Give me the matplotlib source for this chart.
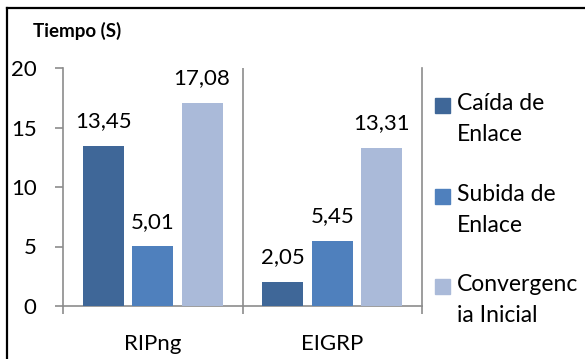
import numpy as np
import matplotlib.pyplot as plt
from matplotlib.lines import Line2D
from matplotlib.patches import Rectangle

# tiempos medidos por protocolo (segundos)
protocolos = ['RIPng', 'EIGRP']
series = ['Caída de\nEnlace', 'Subida de\nEnlace', 'Convergenc\nia Inicial']
caida = [13.45, 2.05]
subida = [5.01, 5.45]
convergencia = [17.08, 13.31]
colores = ['#3f6798', '#4f80bd', '#aabad9']

plt.rcParams['font.family'] = ['Lato', 'DejaVu Sans']
gris = '#8c8c8c'

fig = plt.figure(figsize=(5.85, 3.59), dpi=100)
W, H = 585.0, 359.0
ax = fig.add_axes([63 / W, (H - 306) / H, (422 - 63) / W, (306 - 68) / H])

x = np.arange(len(protocolos))
paso = 0.275
ancho = 0.228
for i, (vals, col) in enumerate(zip([caida, subida, convergencia], colores)):
    pos = x + (i - 1) * paso
    ax.bar(pos, vals, width=ancho, color=col, zorder=3)
    for px, v in zip(pos, vals):
        ax.annotate(f'{v:.2f}'.replace('.', ','), (px, v), xytext=(0, 13.5),
                    textcoords='offset points', ha='center', va='baseline',
                    fontsize=16)

ax.set_xlim(-0.5, 1.5)
ax.set_ylim(0, 20)
ax.set_yticks([0, 5, 10, 15, 20])
ax.tick_params(axis='y', labelsize=16, length=6, width=1.2, color=gris, pad=13)
ax.set_xticks(x)
ax.set_xticklabels(protocolos, fontsize=16)
ax.tick_params(axis='x', which='major', length=0, pad=20)
ax.set_xticks([-0.5, 0.5, 1.5], minor=True)
ax.tick_params(axis='x', which='minor', length=6, width=1.2, color=gris)
ax.axvline(0.5, color=gris, lw=1.2, zorder=1)

ax.spines['top'].set_visible(False)
for s in ['left', 'bottom', 'right']:
    ax.spines[s].set_color(gris)
    ax.spines[s].set_linewidth(1.2)

fig.text(33 / W, 1 - 37 / H, 'Tiempo (S)', fontsize=13.5, fontweight='bold',
         va='baseline')

# leyenda a la derecha
for k, (nombre, col) in enumerate(zip(series, colores)):
    y0 = 98 + k * 90.5
    fig.patches.append(Rectangle((435 / W, 1 - (y0 + 15) / H), 15 / W, 15 / H,
                                 transform=fig.transFigure, color=col))
    fig.text(457 / W, 1 - (y0 - 5) / H, nombre, fontsize=16.5, va='top',
             linespacing=1.6)

# borde del area del grafico
fig.add_artist(Line2D([7 / W, 7 / W], [0, 1 - 8 / H], color='black', lw=1.6))
fig.add_artist(Line2D([7 / W, 1], [1 - 8 / H, 1 - 8 / H], color='black', lw=1.6))

fig.savefig('out.png', dpi=100)
